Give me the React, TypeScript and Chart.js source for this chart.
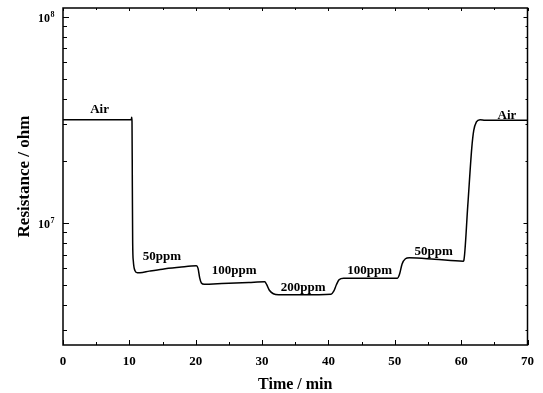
import React, { useEffect, useRef } from "react";
import { Chart, registerables } from "chart.js";

Chart.register(...registerables);

// ---- data ----
const timeMin = [
  0, 5, 10.0, 10.3, 10.35, 10.4, 10.45, 10.5, 10.6, 10.85, 11.2, 11.6,
  13, 15, 17.5, 20.1, 20.35, 20.6, 20.85, 21.3, 22, 25, 28, 30.4,
  30.7, 31.1, 31.7, 32.5, 36, 40.4, 40.8, 41.2, 41.6, 42.3, 46, 50.4,
  50.7, 51.1, 51.6, 52.2, 56, 60.3, 60.4, 61.0, 61.6, 61.9, 62.3,
  62.85, 63.6, 70,
];
const resistanceOhm = [
  3.16e7, 3.16e7, 3.16e7, 3.16e7, 3.25e7, 3.1e7, 1.5e7, 8.0e6, 6.5e6, 5.85e6, 5.72e6, 5.72e6,
  5.82e6, 5.95e6, 6.07e6, 6.18e6, 6.0e6, 5.4e6, 5.1e6, 5.02e6, 5.03e6, 5.08e6, 5.13e6, 5.17e6,
  5.0e6, 4.7e6, 4.52e6, 4.47e6, 4.47e6, 4.5e6, 4.65e6, 5.0e6, 5.28e6, 5.38e6, 5.38e6, 5.38e6,
  5.6e6, 6.3e6, 6.68e6, 6.76e6, 6.65e6, 6.5e6, 6.55e6, 1.21e7, 2.3e7, 2.8e7, 3.08e7,
  3.16e7, 3.14e7, 3.14e7,
];

const xMajorTicks = [0, 10, 20, 30, 40, 50, 60, 70];
const xMinorTicks = [5, 15, 25, 35, 45, 55, 65];
const yMajorTicks = [1e7, 1e8];
const yMajorExponents = ["7", "8"];
const yMinorTicks = [3e6, 4e6, 5e6, 6e6, 7e6, 8e6, 9e6, 2e7, 3e7, 4e7, 5e7, 6e7, 7e7, 8e7, 9e7];

const labelTexts = ["Air", "50ppm", "100ppm", "200ppm", "100ppm", "50ppm", "Air"];
const labelTimes = [5.51, 14.9, 25.8, 36.2, 46.2, 55.85, 66.9];
const labelValues = [3.4e7, 6.59e6, 5.63e6, 4.66e6, 5.63e6, 6.97e6, 3.18e7];

const SERIF = '"Liberation Serif", "DejaVu Serif", serif';

const framePlugin = {
  id: "frameAndLabels",
  afterDraw(chart: any) {
    const { ctx, chartArea } = chart;
    const { left, right, top, bottom } = chartArea;
    const x = chart.scales.x;
    const y = chart.scales.y;
    ctx.save();
    ctx.strokeStyle = "#000";
    ctx.fillStyle = "#000";
    ctx.lineWidth = 1.5;
    ctx.strokeRect(left, top, right - left, bottom - top);

    ctx.lineWidth = 1;
    const line = (x1: number, y1: number, x2: number, y2: number) => {
      ctx.beginPath();
      ctx.moveTo(x1, y1);
      ctx.lineTo(x2, y2);
      ctx.stroke();
    };
    xMajorTicks.forEach((v) => {
      const px = Math.round(x.getPixelForValue(v)) + 0.5;
      line(px, bottom, px, bottom - 5);
      line(px, top, px, top + 3);
    });
    xMinorTicks.forEach((v) => {
      const px = Math.round(x.getPixelForValue(v)) + 0.5;
      line(px, bottom, px, bottom - 3);
      line(px, top, px, top + 2);
    });
    yMajorTicks.forEach((v) => {
      const py = Math.round(y.getPixelForValue(v)) + 0.5;
      line(left, py, left + 6, py);
      line(right, py, right - 4, py);
    });
    yMinorTicks.forEach((v) => {
      const py = Math.round(y.getPixelForValue(v)) + 0.5;
      line(left, py, left + 4, py);
      line(right, py, right - 2, py);
    });

    // y tick labels 10^n
    yMajorTicks.forEach((v, i) => {
      const py = y.getPixelForValue(v);
      ctx.font = `bold 12px ${SERIF}`;
      ctx.textAlign = "right";
      ctx.textBaseline = "alphabetic";
      ctx.fillText("10", 50, py + 5.5);
      ctx.font = `bold 8px ${SERIF}`;
      ctx.textAlign = "left";
      ctx.fillText(yMajorExponents[i], 50.5, py + 0.5);
    });

    // annotations
    ctx.font = `bold 13px ${SERIF}`;
    ctx.textAlign = "center";
    ctx.textBaseline = "alphabetic";
    labelTexts.forEach((t, i) => {
      ctx.fillText(t, x.getPixelForValue(labelTimes[i]), y.getPixelForValue(labelValues[i]));
    });
    ctx.restore();
  },
};

export default function App() {
  const ref = useRef<HTMLCanvasElement | null>(null);
  useEffect(() => {
    if (!ref.current) return;
    const points = timeMin.map((t, i) => ({ x: t, y: resistanceOhm[i] }));
    const chart = new Chart(ref.current, {
      type: "line",
      data: {
        datasets: [
          {
            data: points,
            borderColor: "#000",
            borderWidth: 1.5,
            pointRadius: 0,
            cubicInterpolationMode: "monotone",
            fill: false,
          },
        ],
      },
      options: {
        responsive: false,
        animation: false,
        devicePixelRatio: 1,
        layout: { padding: { top: 8, right: 10, left: 0, bottom: 0 } },
        plugins: { legend: { display: false }, tooltip: { enabled: false } },
        scales: {
          x: {
            type: "linear",
            min: 0,
            max: 70,
            afterFit: (s: any) => {
              s.height = 48;
            },
            ticks: {
              stepSize: 10,
              color: "#000",
              padding: 9,
              font: { family: SERIF, size: 13, weight: "bold" },
            },
            grid: { display: false, drawTicks: false },
            border: { display: false },
            title: {
              display: true,
              text: "Time / min",
              color: "#000",
              padding: { top: 0, bottom: 0 },
              font: { family: SERIF, size: 16, weight: "bold", lineHeight: 1 },
            },
          },
          y: {
            type: "logarithmic",
            min: 2.55e6,
            max: 1.1e8,
            afterFit: (s: any) => {
              s.width = 63;
            },
            ticks: { display: false },
            grid: { display: false, drawTicks: false },
            border: { display: false },
            title: {
              display: true,
              text: "Resistance / ohm",
              color: "#000",
              padding: { top: 16, bottom: 0 },
              font: { family: SERIF, size: 17, weight: "bold", lineHeight: 1 },
            },
          },
        },
      },
      plugins: [framePlugin],
    } as any);
    return () => chart.destroy();
  }, []);
  return (
    <div style={{ position: "absolute", left: 0, top: 0, width: 543, height: 393, background: "#fff" }}>
      <canvas ref={ref} width={543} height={393} style={{ display: "block" }} />
    </div>
  );
}
